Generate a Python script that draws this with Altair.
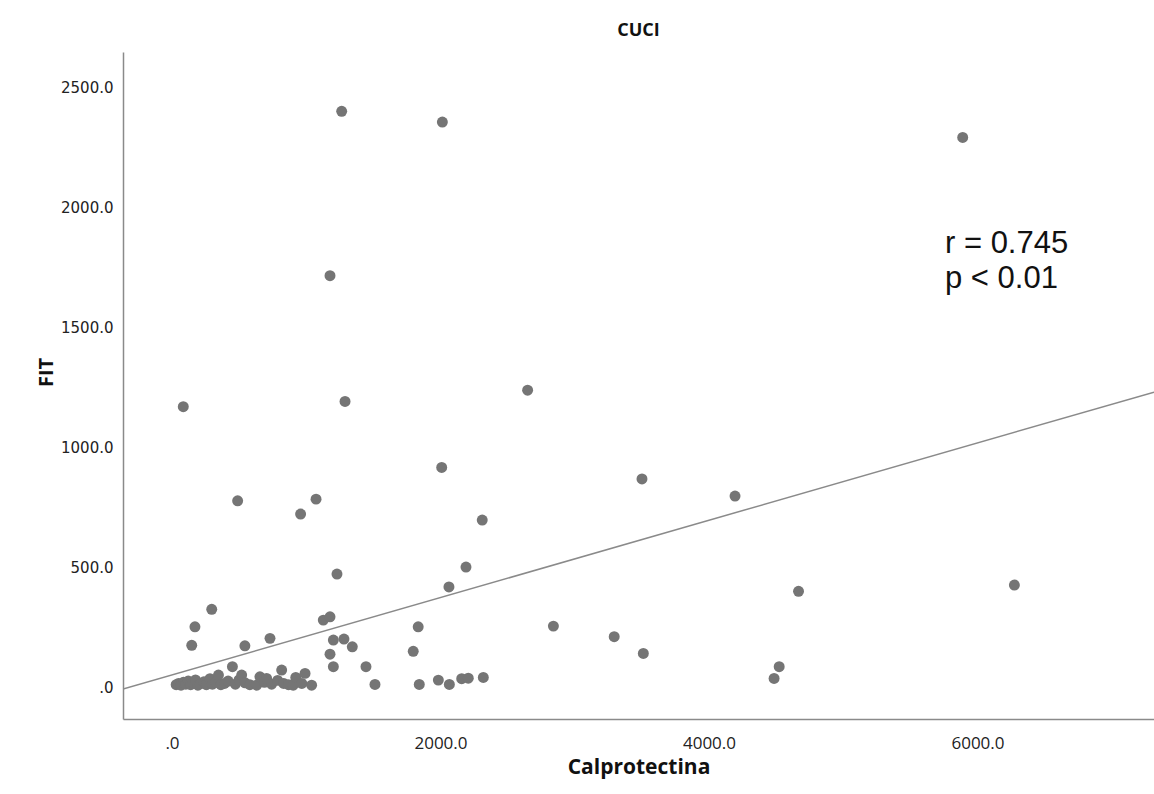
import altair as alt
import pandas as pd

# Data (Calprotectina vs FIT)
calpro = [1264, 2014, 5890, 1177, 1289, 84, 2649, 2009, 3501, 4194,
          489, 1073, 958, 2311, 1229, 2190, 2063, 4667, 6275, 296,
          171, 147, 543, 730, 450, 1127, 1177, 1202, 1281, 1343,
          1177, 1202, 1445, 1512, 1834, 1797, 1842, 1984, 2066, 2158,
          2207, 2319, 2841, 3294, 3511, 4523, 4485,
          31, 49, 67, 85, 103, 121, 139, 157, 175, 193,
          211, 238, 256, 283, 301, 328, 346, 364, 391, 418,
          472, 499, 519, 544, 580, 631, 655, 688, 705, 742,
          787, 817, 832, 868, 903, 922, 967, 991, 1040]
fit = [2399, 2354, 2290, 1714, 1190, 1168, 1237, 915, 867, 796,
       776, 783, 721, 696, 471, 500, 417, 399, 425, 324,
       251, 174, 172, 203, 85, 279, 293, 196, 200, 168,
       137, 85, 85, 11, 251, 149, 11, 29, 11, 35,
       37, 40, 254, 210, 140, 85, 36,
       10, 15, 8, 20, 12, 25, 10, 18, 30, 8,
       14, 22, 10, 35, 12, 20, 50, 10, 15, 25,
       12, 30, 50, 18, 10, 8, 43, 20, 36, 12,
       28, 71, 15, 10, 8, 40, 15, 57, 8]

# Fit line end points
fit_line_x = [-365, 7315]
fit_line_y = [-8, 1229]

# Annotation
note_text = ["r = 0.745", "p < 0.01"]
note_x = [5758, 5758]
note_y = [1808, 1662]

x_domain = [-365, 7315]
y_domain = [-133, 2646]

pts = pd.DataFrame({"Calprotectina": calpro, "FIT": fit})
line_df = pd.DataFrame({"Calprotectina": fit_line_x, "FIT": fit_line_y})
note_df = pd.DataFrame({"t": note_text, "x": note_x, "y": note_y})

label_expr = "datum.value == 0 ? '.0' : format(datum.value, '.1f')"

x_enc = alt.X("Calprotectina:Q",
              scale=alt.Scale(domain=x_domain, nice=False, zero=False),
              axis=alt.Axis(title="Calprotectina", values=[0, 2000, 4000, 6000],
                            labelExpr=label_expr, grid=False, ticks=False,
                            domainColor="#8a8a8a", domainWidth=1.5,
                            labelFont="Open Sans", labelFontSize=17, labelColor="#222",
                            labelPadding=16, titleFont="Open Sans", titleFontSize=21,
                            titleFontWeight="bold", titleColor="#111", titlePadding=5))
y_enc = alt.Y("FIT:Q",
              scale=alt.Scale(domain=y_domain, nice=False, zero=False),
              axis=alt.Axis(title="FIT", values=[0, 500, 1000, 1500, 2000, 2500],
                            labelExpr=label_expr, grid=False, ticks=False,
                            domainColor="#8a8a8a", domainWidth=1.5,
                            labelFont="DejaVu Sans", labelFontSize=15, labelColor="#222",
                            labelPadding=10, titleFont="Open Sans", titleFontSize=20,
                            titleFontWeight="bold", titleColor="#111", titlePadding=4,
                            titleY=320))

points = alt.Chart(pts).mark_circle(size=120, color="#757575", opacity=1).encode(x=x_enc, y=y_enc)

line = alt.Chart(line_df).mark_line(color="#8a8a8a", strokeWidth=1.5, clip=True).encode(
    x=alt.X("Calprotectina:Q"), y=alt.Y("FIT:Q"))

notes = alt.Chart(note_df).mark_text(align="left", baseline="alphabetic",
                                      font="Liberation Sans", fontSize=31, color="#111").encode(
    x=alt.X("x:Q"), y=alt.Y("y:Q"), text="t:N")

chart = alt.layer(line, points, notes).properties(
    width=1031, height=667,
    title=alt.TitleParams("CUCI", font="Open Sans", fontSize=18, fontWeight="bold",
                          color="#111", anchor="middle", offset=12),
    autosize=alt.AutoSizeParams(type="none"),
    padding={"left": 123, "top": 52, "right": 0, "bottom": 75},
    background="white",
).configure_view(stroke=None)

chart.save("out.html", embed_options={"renderer": "svg", "actions": False})
